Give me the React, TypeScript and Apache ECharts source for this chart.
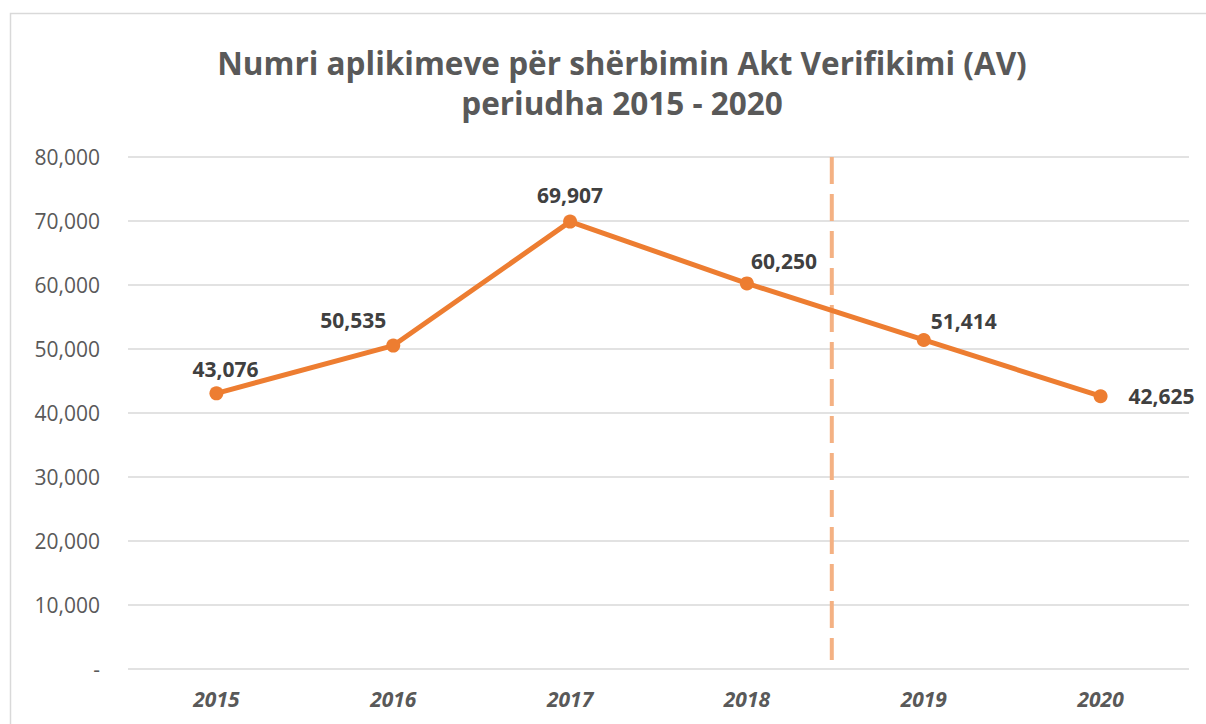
import React, { useEffect, useRef } from "react";
import * as echarts from "echarts";

const titleLines = ["Numri aplikimeve për shërbimin Akt Verifikimi (AV)", "periudha 2015 - 2020"];
const years = ["2015", "2016", "2017", "2018", "2019", "2020"];
const applications = [43076, 50535, 69907, 60250, 51414, 42625];
// label placement for each point: [dx, dy]
const labelOffsets: [number, number][] = [
  [9, -24],
  [-40, -26],
  [0, -27],
  [37, -22],
  [40, -19],
  [61, 0],
];
const dividerX = 3.98; // position between 2018 and 2019 on a 0..6 scale
const dividerRange = [80000, 1400];
const yTicks = { min: 0, max: 80000, interval: 10000 };

const FONT = "'Open Sans', 'Noto Sans', sans-serif";

export default function App() {
  const ref = useRef<HTMLDivElement>(null);
  useEffect(() => {
    document.body.style.margin = "0";
    const chart = echarts.init(ref.current!, null, { renderer: "svg" });
    chart.setOption({
      animation: false,
      backgroundColor: "#ffffff",
      textStyle: { fontFamily: FONT },
      title: {
        text: titleLines.join("\n"),
        left: 617,
        textAlign: "center",
        top: 37,
        textStyle: {
          fontFamily: FONT,
          fontSize: 31.5,
          fontWeight: "bold",
          color: "#595959",
          lineHeight: 40,
        },
      },
      graphic: [
        {
          type: "rect",
          shape: { x: 10.5, y: 13.5, width: 1220, height: 740 },
          style: { fill: "none", stroke: "#d9d9d9", lineWidth: 1.5 },
          silent: true,
          z: -10,
        },
      ],
      grid: { left: 128, right: 17, top: 157, bottom: 55 },
      xAxis: [
        {
          type: "category",
          data: years,
          boundaryGap: true,
          axisLine: { show: false },
          axisTick: { show: false },
          axisLabel: {
            fontFamily: FONT,
            fontSize: 21,
            fontWeight: "bold",
            fontStyle: "italic",
            color: "#595959",
            margin: 19,
          },
        },
        {
          type: "value",
          min: 0,
          max: 6,
          show: false,
        },
      ],
      yAxis: {
        type: "value",
        min: yTicks.min,
        max: yTicks.max,
        interval: yTicks.interval,
        axisLine: { show: false },
        axisTick: { show: false },
        splitLine: { lineStyle: { color: "#d9d9d9", width: 1.5 } },
        axisLabel: {
          fontFamily: FONT,
          fontSize: 21,
          color: "#595959",
          margin: 28,
          formatter: (v: number) => (v === 0 ? "-" : v.toLocaleString("en-US")),
        },
      },
      series: [
        {
          type: "line",
          xAxisIndex: 1,
          data: dividerRange.map((v) => [dividerX, v]),
          symbol: "none",
          silent: true,
          lineStyle: { color: "#F4B183", width: 4, type: [27, 10] },
          z: 1,
        },
        {
          type: "line",
          xAxisIndex: 0,
          data: applications.map((v, i) => ({
            value: v,
            label: { offset: labelOffsets[i] },
          })),
          symbol: "circle",
          symbolSize: 14,
          itemStyle: { color: "#ED7D31" },
          lineStyle: { color: "#ED7D31", width: 5 },
          z: 3,
          label: {
            show: true,
            position: "inside",
            fontFamily: FONT,
            fontSize: 21,
            fontWeight: "bold",
            color: "#404040",
            formatter: (p: any) => Number(p.value).toLocaleString("en-US"),
          },
        },
      ],
    });
    return () => chart.dispose();
  }, []);
  return <div ref={ref} style={{ width: 1206, height: 724 }} />;
}
